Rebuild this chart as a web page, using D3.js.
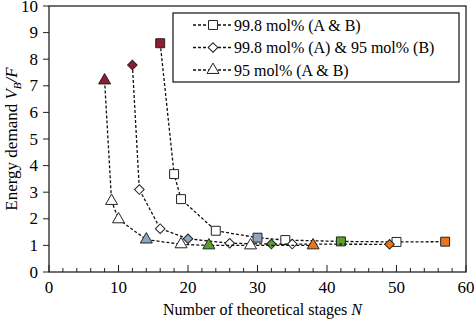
<!DOCTYPE html>
<html>
<head>
<meta charset="utf-8">
<script src="https://cdn.jsdelivr.net/npm/d3@7"></script>
<style>
  body { margin: 0; background: #fff; }
</style>
</head>
<body>
<div id="chart"></div>
<script>
// Stages N and energy demand V_B/F for each purity case
var seriesNames = ["99.8 mol% (A & B)", "99.8 mol% (A) & 95 mol% (B)", "95 mol% (A & B)"];

var stagesAB998 = [16, 18, 19, 24, 30, 34, 42, 50, 57];
var energyAB998 = [8.6, 3.68, 2.74, 1.55, 1.29, 1.2, 1.15, 1.13, 1.14];
var pointTypeAB998 = ["red", "white", "white", "white", "blue", "white", "green", "white", "orange"];

var stagesMixed = [12, 13, 16, 20, 26, 32, 35, 49];
var energyMixed = [7.78, 3.1, 1.63, 1.25, 1.08, 1.05, 1.05, 1.04];
var pointTypeMixed = ["red", "white", "white", "blue", "white", "green", "white", "orange"];

var stagesAB95 = [8, 9, 10, 14, 19, 23, 29, 38];
var energyAB95 = [7.2, 2.67, 1.98, 1.22, 1.04, 1.0, 1.0, 1.0];
var pointTypeAB95 = ["red", "white", "white", "blue", "white", "green", "white", "orange"];

var xTicks = [0, 10, 20, 30, 40, 50, 60];
var yTicks = [0, 1, 2, 3, 4, 5, 6, 7, 8, 9, 10];

var series = [
  { name: seriesNames[0], symbol: d3.symbolSquare, size: 80, rot: 0, x: stagesAB998, y: energyAB998, type: pointTypeAB998 },
  { name: seriesNames[1], symbol: d3.symbolSquare, size: 46, rot: 45, x: stagesMixed, y: energyMixed, type: pointTypeMixed },
  { name: seriesNames[2], symbol: d3.symbolTriangle, size: 62, rot: 0, x: stagesAB95, y: energyAB95, type: pointTypeAB95 }
];

var width = 474, height = 323;
var margin = { top: 6, right: 8, bottom: 51, left: 49 };
var serif = "'Liberation Serif', 'Times New Roman', serif";

var fill = d3.scaleOrdinal()
  .domain(["white", "red", "blue", "green", "orange"])
  .range(["#ffffff", "#8e1c33", "#8ea6bd", "#5aa02c", "#e8751f"]);

var x = d3.scaleLinear().domain([0, 60]).range([margin.left, width - margin.right]);
var y = d3.scaleLinear().domain([0, 10]).range([height - margin.bottom, margin.top]);

var svg = d3.select("#chart").append("svg")
  .attr("width", width)
  .attr("height", height);

// Frame around the plot area
svg.append("rect")
  .attr("x", x(0)).attr("y", y(10))
  .attr("width", x(60) - x(0)).attr("height", y(0) - y(10))
  .attr("fill", "none").attr("stroke", "#222").attr("stroke-width", 1.3);

// x axis: minor ticks every 2, ticks pointing inward
var xAxis = svg.append("g").attr("transform", "translate(0," + y(0) + ")");
xAxis.selectAll("line.minor")
  .data(d3.range(2, 60, 2).filter(function(d) { return d % 10 !== 0; }))
  .enter().append("line")
  .attr("x1", x).attr("x2", x).attr("y1", 0).attr("y2", -4)
  .attr("stroke", "#222");
xAxis.selectAll("line.major")
  .data(xTicks)
  .enter().append("line")
  .attr("x1", x).attr("x2", x).attr("y1", 0).attr("y2", -7)
  .attr("stroke", "#222");
xAxis.selectAll("text")
  .data(xTicks)
  .enter().append("text")
  .attr("x", x).attr("y", 21)
  .attr("text-anchor", "middle")
  .style("font-family", serif)
  .style("font-size", "17px")
  .text(function(d) { return d; });

// y axis: outward ticks
var yAxis = svg.append("g").attr("transform", "translate(" + x(0) + ",0)");
yAxis.selectAll("line")
  .data(yTicks)
  .enter().append("line")
  .attr("x1", -6).attr("x2", 0).attr("y1", y).attr("y2", y)
  .attr("stroke", "#222");
yAxis.selectAll("text")
  .data(yTicks)
  .enter().append("text")
  .attr("x", -11).attr("y", function(d) { return Math.max(y(d) + 5.5, 12); })
  .attr("text-anchor", "end")
  .style("font-family", serif)
  .style("font-size", "17px")
  .text(function(d) { return d; });

// Axis titles
var xTitle = svg.append("text")
  .attr("x", (x(0) + x(60)) / 2 + 5).attr("y", 315)
  .attr("text-anchor", "middle")
  .style("font-family", serif)
  .style("font-size", "16px");
xTitle.append("tspan").text("Number of theoretical stages ");
xTitle.append("tspan").style("font-style", "italic").text("N");

var yTitle = svg.append("text")
  .attr("transform", "translate(17," + ((y(0) + y(10)) / 2) + ") rotate(-90)")
  .attr("text-anchor", "middle")
  .style("font-family", serif)
  .style("font-size", "17px");
yTitle.append("tspan").text("Energy demand ");
yTitle.append("tspan").style("font-style", "italic").text("V");
yTitle.append("tspan").style("font-style", "italic").style("font-size", "11px").attr("dy", 4).text("B");
yTitle.append("tspan").style("font-style", "italic").attr("dy", -4).text("/F");

var line = d3.line()
  .x(function(d) { return x(d[0]); })
  .y(function(d) { return y(d[1]); });

// Dashed connecting lines and markers for each case
series.forEach(function(s) {
  var pts = s.x.map(function(v, i) { return [v, s.y[i], s.type[i]]; });
  var g = svg.append("g");
  g.append("path")
    .attr("d", line(pts))
    .attr("fill", "none")
    .attr("stroke", "#111")
    .attr("stroke-width", 1.3)
    .attr("stroke-dasharray", "3,2");
  var sym = d3.symbol().type(s.symbol).size(s.size);
  g.selectAll("path.pt")
    .data(pts)
    .enter().append("path")
    .attr("class", "pt")
    .attr("d", sym)
    .attr("transform", function(d) { return "translate(" + x(d[0]) + "," + y(d[1]) + ") rotate(" + s.rot + ")"; })
    .attr("fill", function(d) { return fill(d[2]); })
    .attr("stroke", "#222")
    .attr("stroke-width", 1);
});

// Legend
var legend = svg.append("g").attr("transform", "translate(173,13)");
legend.append("rect")
  .attr("width", 286).attr("height", 69)
  .attr("fill", "#fff").attr("stroke", "#222").attr("stroke-width", 1.3);

var item = legend.selectAll("g.item")
  .data(series)
  .enter().append("g")
  .attr("class", "item")
  .attr("transform", function(d, i) { return "translate(0," + (12 + i * 22.5) + ")"; });
item.append("line")
  .attr("x1", 20).attr("x2", 59).attr("y1", 0).attr("y2", 0)
  .attr("stroke", "#111").attr("stroke-width", 1.3).attr("stroke-dasharray", "3,2");
item.append("path")
  .attr("d", function(d) { return d3.symbol().type(d.symbol).size(d.size)(); })
  .attr("transform", function(d) { return "translate(40,0) rotate(" + d.rot + ")"; })
  .attr("fill", "#fff").attr("stroke", "#222");
item.append("text")
  .attr("x", 61).attr("y", 5.5)
  .style("font-family", serif)
  .style("font-size", "16px")
  .text(function(d) { return d.name; });
</script>
</body>
</html>
